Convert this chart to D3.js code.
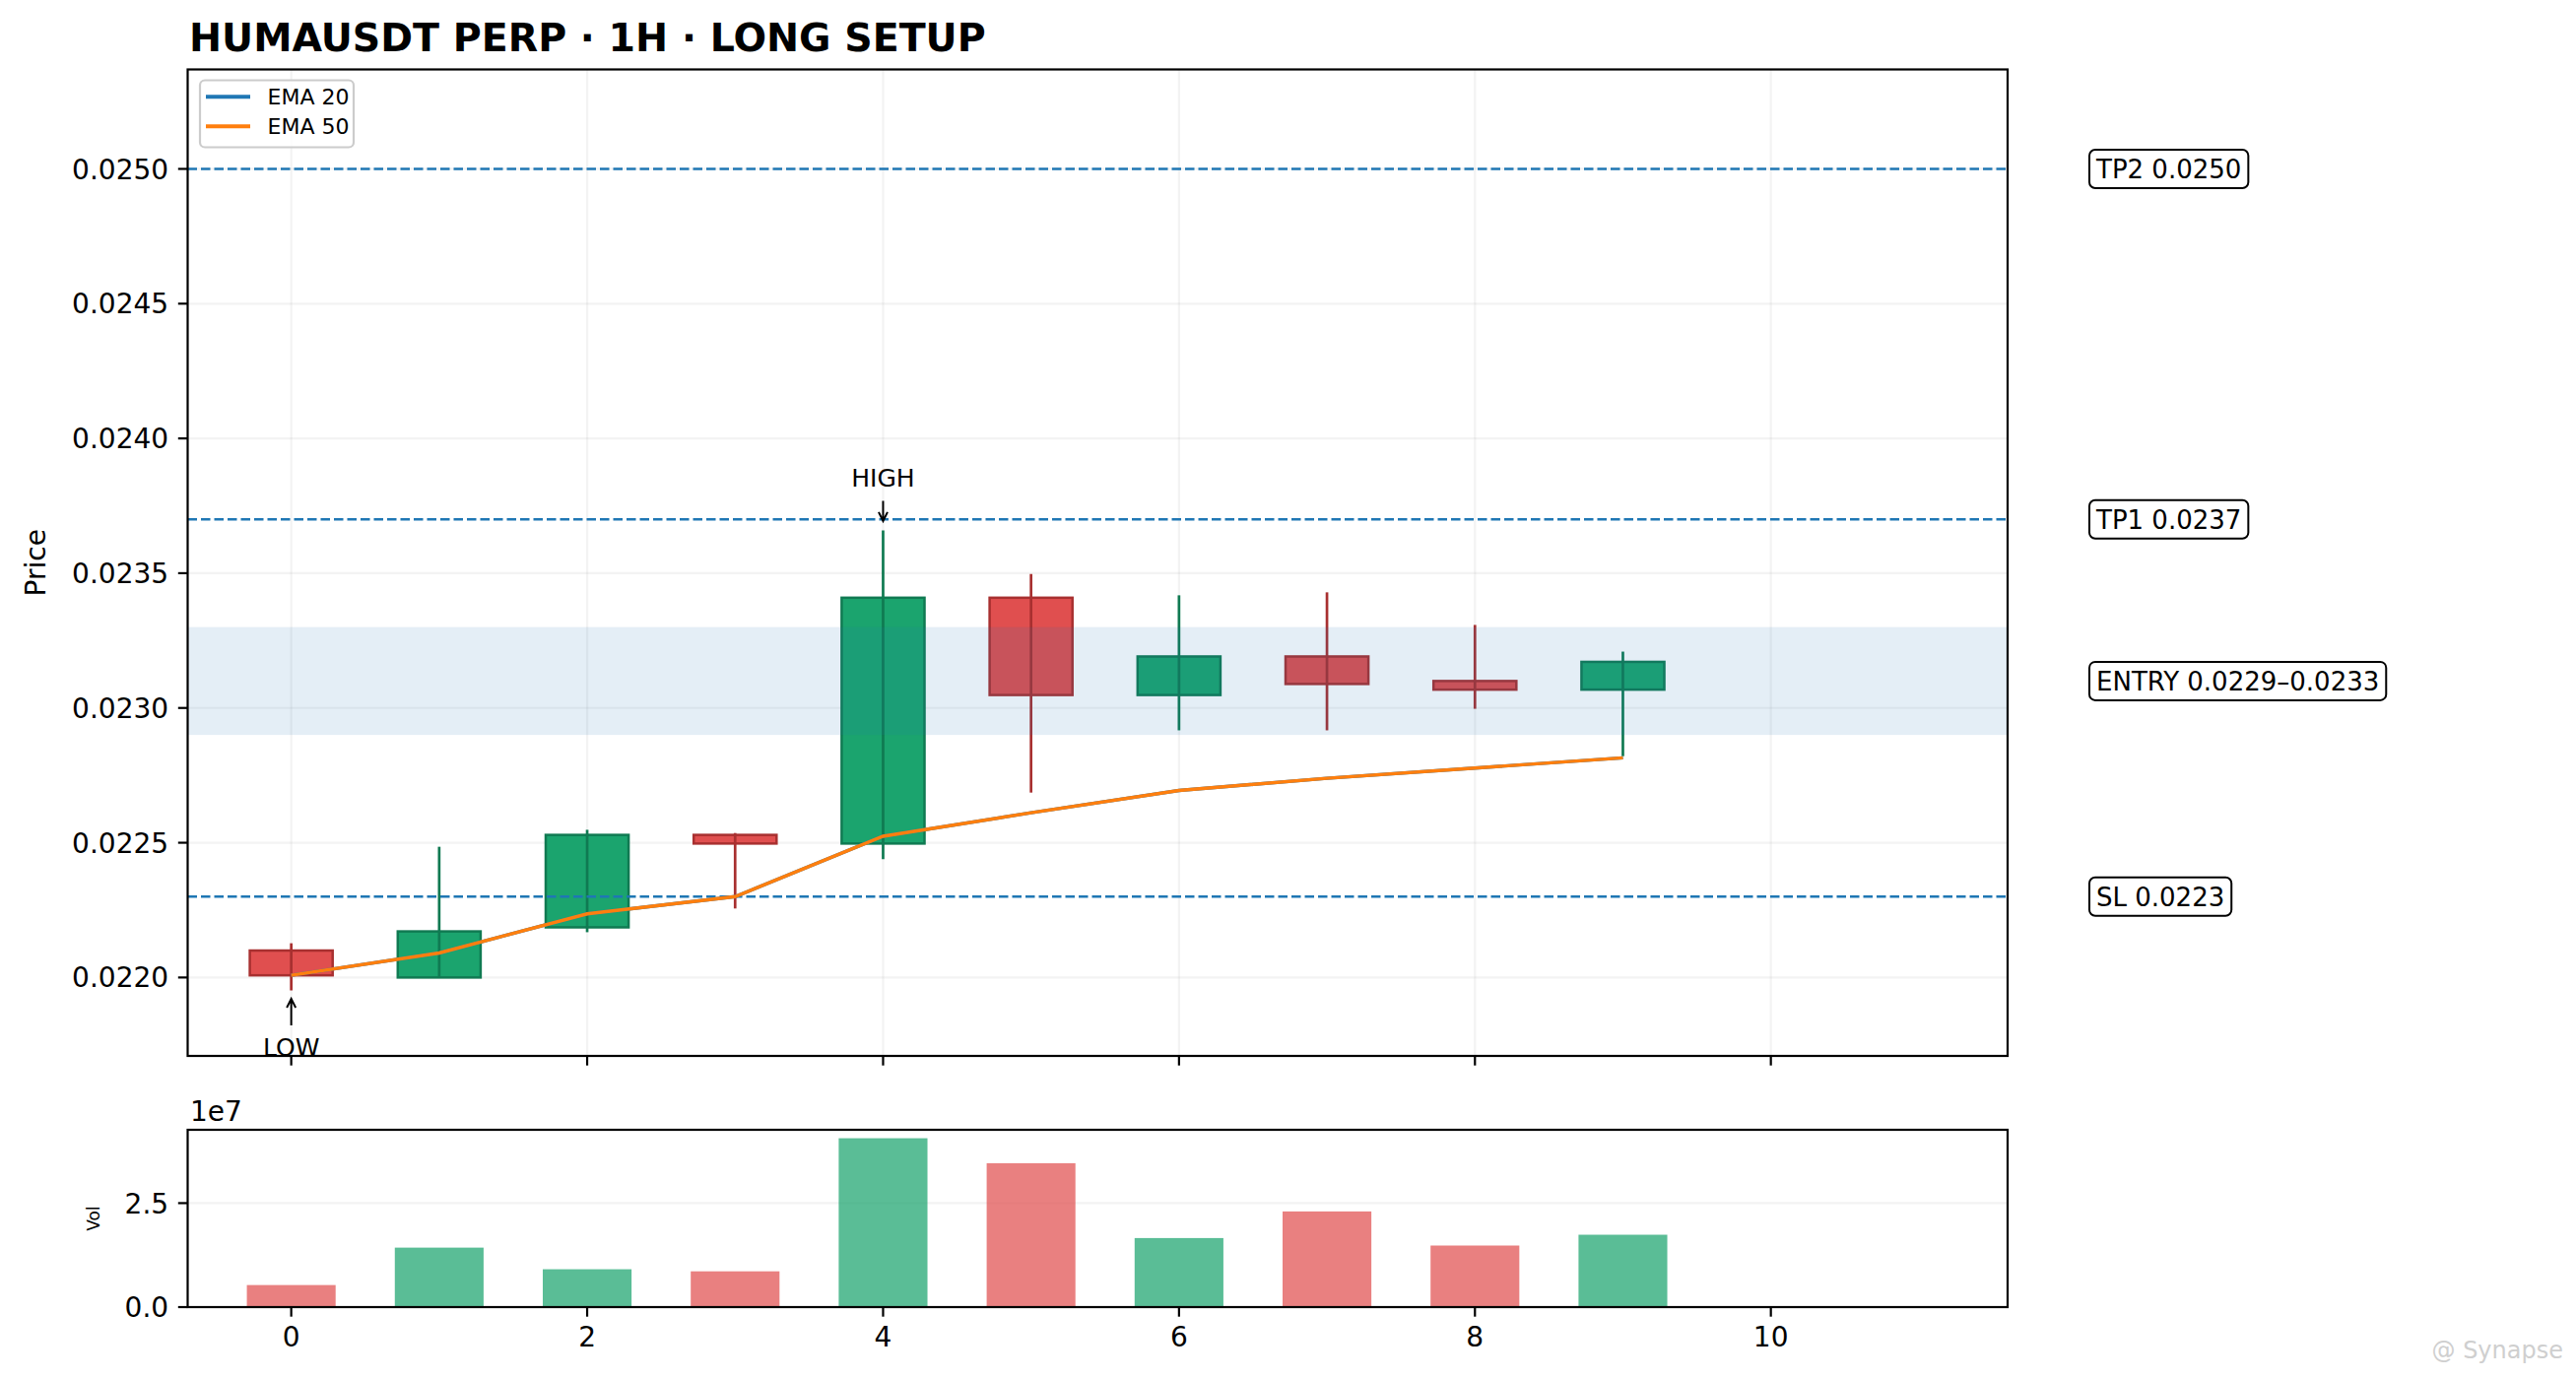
<!DOCTYPE html>
<html>
<head>
<meta charset="utf-8">
<script src="https://cdn.jsdelivr.net/npm/d3@7"></script>
<style>
  body { margin: 0; background: #ffffff; }
  text { font-family: "DejaVu Sans", sans-serif; }
</style>
</head>
<body>
<div id="chart"></div>
<script>
// candles
const bars = [0, 1, 2, 3, 4, 5, 6, 7, 8, 9];
const opens = [0.0221, 0.022, 0.022186, 0.022529, 0.022497, 0.023409, 0.023048, 0.023191, 0.0231, 0.023068];
const closes = [0.022008, 0.022171, 0.022529, 0.022497, 0.023409, 0.023048, 0.023191, 0.023089, 0.023068, 0.023171];
const highs = [0.022127, 0.022485, 0.022548, 0.022536, 0.023659, 0.023497, 0.023418, 0.023429, 0.023308, 0.023209];
const lows = [0.021952, 0.022, 0.022168, 0.022256, 0.022439, 0.022686, 0.022917, 0.022917, 0.022997, 0.022821];
const ema20 = [0.022008, 0.022091, 0.022236, 0.0223, 0.022524, 0.022611, 0.022694, 0.022739, 0.022777, 0.022815];
const ema50 = [0.022008, 0.022091, 0.022236, 0.0223, 0.022524, 0.022611, 0.022694, 0.022739, 0.022777, 0.022815];
const volumes = [5.3e6, 1.43e7, 9.1e6, 8.6e6, 4.06e7, 3.46e7, 1.66e7, 2.3e7, 1.48e7, 1.74e7];

const levelNames = ["TP2", "TP1", "SL"];
const levelValues = [0.025, 0.0237, 0.0223];
const entryZone = [0.0229, 0.0233];

const priceTicks = [0.022, 0.0225, 0.023, 0.0235, 0.024, 0.0245, 0.025];
const volTicks = [0, 2.5e7];
const volTickLabels = ["0.0", "2.5"];
const xTicks = [0, 2, 4, 6, 8, 10];

var W = 2615, H = 1400;
var plot = { left: 190.5, right: 2038, top: 70.5, bottom: 1072 };
var vol = { top: 1147, bottom: 1327 };

var green = "#1ba46e", greenEdge = "#107a52";
var red = "#e04f4f", redEdge = "#a83030";
var tabBlue = "#1f77b4", tabOrange = "#ff7f0e";
var fs = 28; // 10pt at the picture's dpi

var svg = d3
  .select("#chart")
  .append("svg")
  .attr("width", W)
  .attr("height", H)
  .style("background", "#ffffff");

var x = d3.scaleLinear().domain([-0.7, 11.6]).range([plot.left, plot.right]);
var y = d3.scaleLinear().domain([0.021709, 0.025369]).range([plot.bottom, plot.top]);
var yv = d3
  .scaleLinear()
  .domain([0, d3.max(volumes) * 1.05])
  .range([vol.bottom, vol.top]);

var candles = bars.map(function (b, i) {
  return { i: b, o: opens[i], c: closes[i], h: highs[i], l: lows[i], v: volumes[i], up: closes[i] >= opens[i] };
});

// grid
var grid = svg.append("g").attr("stroke", "#b0b0b0").attr("stroke-opacity", 0.15).attr("stroke-width", 2.2);
grid
  .selectAll("line.gy")
  .data(priceTicks)
  .enter()
  .append("line")
  .attr("x1", plot.left)
  .attr("x2", plot.right)
  .attr("y1", (d) => y(d))
  .attr("y2", (d) => y(d));
grid
  .selectAll("line.gx")
  .data(xTicks)
  .enter()
  .append("line")
  .attr("x1", (d) => x(d))
  .attr("x2", (d) => x(d))
  .attr("y1", plot.top)
  .attr("y2", plot.bottom);
grid
  .selectAll("line.gv")
  .data(volTicks.slice(1))
  .enter()
  .append("line")
  .attr("x1", plot.left)
  .attr("x2", plot.right)
  .attr("y1", (d) => yv(d))
  .attr("y2", (d) => yv(d));

// candle bodies + wicks
var bodyW = 0.56;
var cg = svg.append("g");
cg.selectAll("rect")
  .data(candles)
  .enter()
  .append("rect")
  .attr("x", (d) => x(d.i - bodyW / 2))
  .attr("width", x(bodyW) - x(0))
  .attr("y", (d) => y(Math.max(d.o, d.c)))
  .attr("height", (d) => Math.max(1, Math.abs(y(d.o) - y(d.c))))
  .attr("fill", (d) => (d.up ? green : red))
  .attr("stroke", (d) => (d.up ? greenEdge : redEdge))
  .attr("stroke-width", 2.5);
cg.selectAll("line")
  .data(candles)
  .enter()
  .append("line")
  .attr("x1", (d) => x(d.i))
  .attr("x2", (d) => x(d.i))
  .attr("y1", (d) => y(d.h))
  .attr("y2", (d) => y(d.l))
  .attr("stroke", (d) => (d.up ? greenEdge : redEdge))
  .attr("stroke-width", 2.7);

// entry zone
svg
  .append("rect")
  .attr("x", plot.left)
  .attr("width", plot.right - plot.left)
  .attr("y", y(entryZone[1]))
  .attr("height", y(entryZone[0]) - y(entryZone[1]))
  .attr("fill", tabBlue)
  .attr("fill-opacity", 0.12);

// TP / SL lines
svg
  .append("g")
  .selectAll("line")
  .data(levelValues)
  .enter()
  .append("line")
  .attr("x1", plot.left)
  .attr("x2", plot.right)
  .attr("y1", (d) => y(d))
  .attr("y2", (d) => y(d))
  .attr("stroke", tabBlue)
  .attr("stroke-width", 2.4)
  .attr("stroke-dasharray", "9.5,4");

// EMA lines
var line = d3
  .line()
  .x(function (d, i) {
    return x(bars[i]);
  })
  .y(function (d) {
    return y(d);
  });
svg.append("path").datum(ema20).attr("fill", "none").attr("stroke", tabBlue).attr("stroke-width", 3.4).attr("d", line);
svg.append("path").datum(ema50).attr("fill", "none").attr("stroke", tabOrange).attr("stroke-width", 3.4).attr("d", line);

// HIGH / LOW markers
var hiIdx = d3.maxIndex(highs), loIdx = d3.minIndex(lows);
function arrow(g, xp, y0, y1) {
  var dir = y1 > y0 ? 1 : -1;
  g.append("path")
    .attr("d", "M" + xp + "," + y0 + "L" + xp + "," + y1 + "M" + (xp - 4.5) + "," + (y1 - dir * 9) + "L" + xp + "," + y1 + "L" + (xp + 4.5) + "," + (y1 - dir * 9))
    .attr("fill", "none")
    .attr("stroke", "#000")
    .attr("stroke-width", 2);
}
var ann = svg.append("g");
var hx = x(bars[hiIdx]), hy = y(highs[hiIdx]);
ann.append("text").attr("x", hx).attr("y", hy - 44).attr("text-anchor", "middle").attr("font-size", 25).text("HIGH");
arrow(ann, hx, hy - 30, hy - 9.5);
var lx = x(bars[loIdx]), ly = y(lows[loIdx]);
ann.append("text").attr("x", lx).attr("y", ly + 66).attr("text-anchor", "middle").attr("font-size", 25).text("LOW");
arrow(ann, lx, ly + 35.5, ly + 8.5);

// volume bars
svg
  .append("g")
  .selectAll("rect")
  .data(candles)
  .enter()
  .append("rect")
  .attr("x", (d) => x(d.i - 0.3))
  .attr("width", x(0.6) - x(0))
  .attr("y", (d) => yv(d.v))
  .attr("height", (d) => yv(0) - yv(d.v))
  .attr("fill", (d) => (d.up ? green : red))
  .attr("fill-opacity", 0.72);

// frames
function frame(top, bottom) {
  svg
    .append("rect")
    .attr("x", plot.left)
    .attr("y", top)
    .attr("width", plot.right - plot.left)
    .attr("height", bottom - top)
    .attr("fill", "none")
    .attr("stroke", "#000")
    .attr("stroke-width", 2.2);
}
frame(plot.top, plot.bottom);
frame(vol.top, vol.bottom);

// axes ticks
var tickLen = 9.7, pad = 9.7;
var axY = svg.append("g");
priceTicks.forEach(function (t) {
  axY.append("line").attr("x1", plot.left - tickLen).attr("x2", plot.left).attr("y1", y(t)).attr("y2", y(t)).attr("stroke", "#000").attr("stroke-width", 2.2);
  axY.append("text")
    .attr("x", plot.left - tickLen - pad)
    .attr("y", y(t))
    .attr("dy", "0.36em")
    .attr("text-anchor", "end")
    .attr("font-size", fs)
    .text(d3.format(".4f")(t));
});
volTicks.forEach(function (t, i) {
  axY.append("line").attr("x1", plot.left - tickLen).attr("x2", plot.left).attr("y1", yv(t)).attr("y2", yv(t)).attr("stroke", "#000").attr("stroke-width", 2.2);
  axY.append("text")
    .attr("x", plot.left - tickLen - pad)
    .attr("y", yv(t))
    .attr("dy", "0.36em")
    .attr("text-anchor", "end")
    .attr("font-size", fs)
    .text(volTickLabels[i]);
});
xTicks.forEach(function (t) {
  axY.append("line").attr("x1", x(t)).attr("x2", x(t)).attr("y1", plot.bottom).attr("y2", plot.bottom + tickLen).attr("stroke", "#000").attr("stroke-width", 2.2);
  axY.append("line").attr("x1", x(t)).attr("x2", x(t)).attr("y1", vol.bottom).attr("y2", vol.bottom + tickLen).attr("stroke", "#000").attr("stroke-width", 2.2);
  axY.append("text")
    .attr("x", x(t))
    .attr("y", vol.bottom + tickLen + pad + 20.5)
    .attr("text-anchor", "middle")
    .attr("font-size", fs)
    .text(t);
});

// labels
svg.append("text").attr("x", 193).attr("y", 1138).attr("font-size", fs).text("1e7");
svg
  .append("text")
  .attr("transform", "translate(46," + (plot.top + plot.bottom) / 2 + ") rotate(-90)")
  .attr("text-anchor", "middle")
  .attr("font-size", fs)
  .text("Price");
svg
  .append("text")
  .attr("transform", "translate(101," + (vol.top + vol.bottom) / 2 + ") rotate(-90)")
  .attr("text-anchor", "middle")
  .attr("font-size", 17)
  .text("Vol");
svg
  .append("text")
  .attr("x", 192)
  .attr("y", 52)
  .attr("font-size", 39.5)
  .attr("font-weight", "bold")
  .text("HUMAUSDT PERP · 1H · LONG SETUP");

// legend
var lg = svg.append("g");
lg.append("rect").attr("x", 203).attr("y", 81.5).attr("width", 156).attr("height", 68).attr("rx", 5).attr("fill", "#ffffff").attr("fill-opacity", 0.8).attr("stroke", "#cccccc").attr("stroke-width", 2.2);
[["EMA 20", tabBlue], ["EMA 50", tabOrange]].forEach(function (e, i) {
  var ly2 = 98.3 + i * 30;
  lg.append("line").attr("x1", 209).attr("x2", 254).attr("y1", ly2).attr("y2", ly2).attr("stroke", e[1]).attr("stroke-width", 4);
  lg.append("text").attr("x", 271.5).attr("y", ly2).attr("dy", "0.36em").attr("font-size", 22).text(e[0]);
});

// right-hand labels
var fmt = d3.format(".4f");
var tags = levelNames.map(function (n, i) {
  return { label: n + " " + fmt(levelValues[i]), v: levelValues[i] };
});
tags.splice(2, 0, { label: "ENTRY " + fmt(entryZone[0]) + "–" + fmt(entryZone[1]), v: (entryZone[0] + entryZone[1]) / 2 });
var tg = svg.append("g");
tags.forEach(function (t) {
  var g = tg.append("g");
  var tx = g.append("text").attr("x", 2128).attr("y", y(t.v)).attr("dy", "0.36em").attr("font-size", 26).text(t.label);
  var w = tx.node().getComputedTextLength();
  g.insert("rect", "text")
    .attr("x", 2121)
    .attr("y", y(t.v) - 19.5)
    .attr("width", w + 14)
    .attr("height", 39)
    .attr("rx", 6)
    .attr("fill", "#ffffff")
    .attr("stroke", "#000")
    .attr("stroke-width", 2);
});

// watermark
svg.append("text").attr("x", 2602).attr("y", 1379).attr("text-anchor", "end").attr("font-size", 24).attr("fill", "#cfcfcf").text("@ Synapse");
</script>
</body>
</html>
